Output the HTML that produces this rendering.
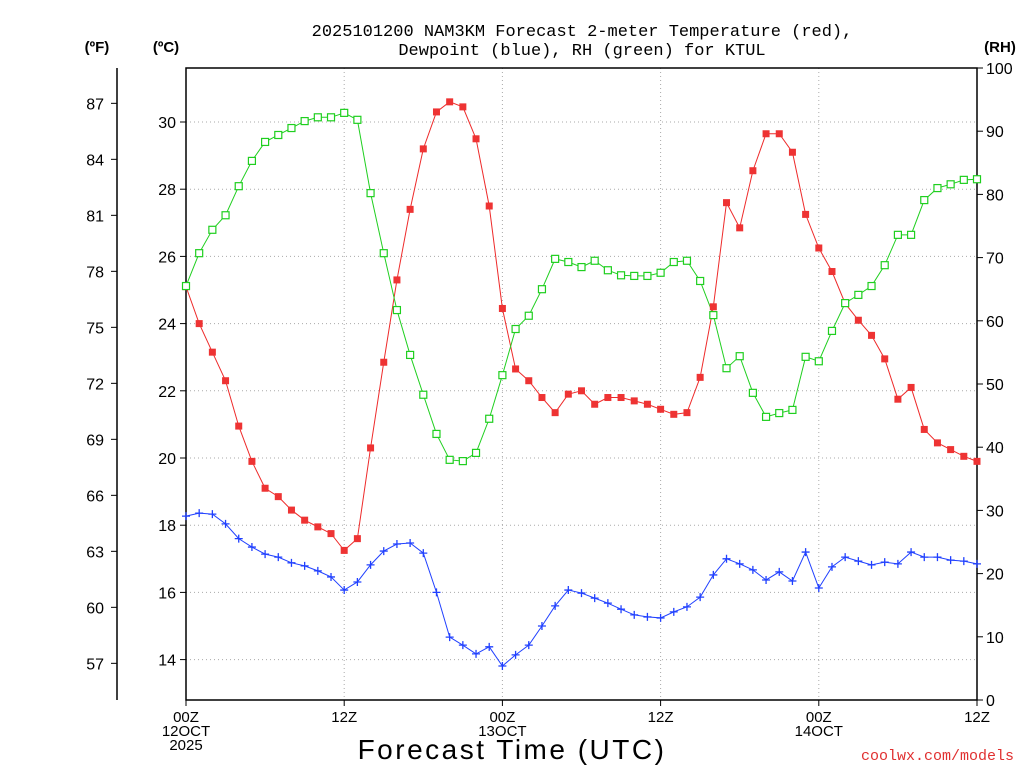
<!DOCTYPE html>
<html><head><meta charset="utf-8"><style>
html,body{margin:0;padding:0;background:#fff;}
svg{display:block;font-family:"Liberation Sans",sans-serif;}
</style></head><body>
<svg id="chart" width="1024" height="768" viewBox="0 0 1024 768">
<text x="582" y="36" text-anchor="middle" font-size="17" font-family="Liberation Mono, monospace">2025101200 NAM3KM Forecast 2-meter Temperature (red),</text>
<text x="582" y="55" text-anchor="middle" font-size="17" font-family="Liberation Mono, monospace">Dewpoint (blue), RH (green) for KTUL</text>
<text x="97" y="52" text-anchor="middle" font-size="15" font-weight="bold">(ºF)</text>
<text x="166" y="52" text-anchor="middle" font-size="15" font-weight="bold">(ºC)</text>
<text x="1000" y="52" text-anchor="middle" font-size="15" font-weight="bold">(RH)</text>
<text x="512" y="759" text-anchor="middle" font-size="28" letter-spacing="2.5">Forecast Time (UTC)</text>
<text x="1014" y="760" text-anchor="end" font-size="15" fill="#e03030" font-family="Liberation Mono, monospace">coolwx.com/models</text>
<g id="grid"></g><g id="axes"></g><g id="series"></g>
</svg>
<script>
const hours = Array.from({length:61},(_,i)=>i);
const tempC = [25.1,24.0,23.15,22.3,20.95,19.9,19.1,18.85,18.45,18.15,17.95,17.75,17.25,17.6,20.3,22.85,25.3,27.4,29.2,30.3,30.6,30.45,29.5,27.5,24.45,22.65,22.3,21.8,21.35,21.9,22.0,21.6,21.8,21.8,21.7,21.6,21.45,21.3,21.35,22.4,24.5,27.6,26.85,28.55,29.65,29.65,29.1,27.25,26.25,25.55,24.6,24.1,23.65,22.95,21.75,22.1,20.85,20.45,20.25,20.05,19.9];
const rh = [65.5,70.7,74.4,76.7,81.3,85.3,88.3,89.4,90.5,91.6,92.2,92.2,92.9,91.8,80.2,70.7,61.7,54.6,48.3,42.1,38.0,37.8,39.1,44.5,51.4,58.7,60.8,65.0,69.8,69.3,68.5,69.5,68.0,67.2,67.1,67.1,67.6,69.3,69.5,66.3,60.9,52.5,54.4,48.6,44.8,45.4,45.9,54.3,53.6,58.4,62.8,64.1,65.5,68.8,73.6,73.6,79.1,81.0,81.6,82.3,82.4];
const dewC = [18.27,18.36,18.33,18.04,17.6,17.35,17.14,17.05,16.88,16.79,16.64,16.46,16.07,16.31,16.82,17.23,17.44,17.47,17.17,16.0,14.67,14.43,14.17,14.38,13.81,14.14,14.43,15.0,15.6,16.07,15.98,15.83,15.68,15.5,15.33,15.27,15.24,15.42,15.57,15.86,16.52,17.0,16.85,16.67,16.37,16.61,16.34,17.2,16.13,16.76,17.05,16.93,16.82,16.9,16.85,17.2,17.05,17.05,16.96,16.93,16.85];
const cTicks = [14,16,18,20,22,24,26,28,30];
const fTicks = [57,60,63,66,69,72,75,78,81,84,87];
const rhTicks = [0,10,20,30,40,50,60,70,80,90,100];
const xTickHours = [0,12,24,36,48,60];
const xTickLabels = [["00Z","12OCT","2025"],["12Z"],["00Z","13OCT"],["12Z"],["00Z","14OCT"],["12Z"]];

const L=186,R=977,T=68,B=700;
const x = h => L + h*(R-L)/60;
const yC = c => 458 - (c-20)*33.6;
const yF = f => yC((f-32)*5/9);
const yRH = r => B - r*(B-T)/100;
const NS="http://www.w3.org/2000/svg";
function mk(tag,attrs,parent){const e=document.createElementNS(NS,tag);for(const k in attrs)e.setAttribute(k,attrs[k]);parent.appendChild(e);return e;}
const grid=document.getElementById('grid'), axes=document.getElementById('axes'), ser=document.getElementById('series');

cTicks.forEach(c=>{
  const g=mk('line',{x1:L,x2:R,y1:yC(c),y2:yC(c),stroke:'#aaa','stroke-dasharray':'1,3'},grid);
  
  
  mk('line',{x1:L-6,x2:L,y1:yC(c),y2:yC(c),stroke:'#000'},axes);
  const t=mk('text',{x:L-10,y:yC(c)+6,'text-anchor':'end','font-size':16},axes);t.textContent=c;
  
  
});
xTickHours.forEach((h,i)=>{
  if(h>0&&h<60){const g=mk('line',{x1:x(h),x2:x(h),y1:T,y2:B,stroke:'#aaa','stroke-dasharray':'1,3'},grid);
  
  }
  mk('line',{x1:x(h),x2:x(h),y1:B,y2:B+6,stroke:'#000'},axes);
  xTickLabels[i].forEach((s,j)=>{const t=mk('text',{x:x(h),y:722+j*14,'text-anchor':'middle','font-size':15},axes);t.textContent=s;
  
  });
});
fTicks.forEach(f=>{
  mk('line',{x1:111,x2:117,y1:yF(f),y2:yF(f),stroke:'#000'},axes);
  const t=mk('text',{x:104,y:yF(f)+6,'text-anchor':'end','font-size':16},axes);t.textContent=f;
  
  
});
rhTicks.forEach(r=>{
  mk('line',{x1:R,x2:R+6,y1:yRH(r),y2:yRH(r),stroke:'#000'},axes);
  const t=mk('text',{x:R+9,y:yRH(r)+6,'font-size':16},axes);t.textContent=r;
  
  
});
const frame=mk('rect',{x:L,y:T,width:R-L,height:B-T,fill:'none',stroke:'#000','stroke-width':1.5},axes);


const fax=mk('line',{x1:117,x2:117,y1:T,y2:B,stroke:'#000','stroke-width':1.5},axes);



function line(vals,yf,color,name){
  const p=mk('polyline',{points:vals.map((v,i)=>x(hours[i])+','+yf(v)).join(' '),fill:'none',stroke:color,'stroke-width':1},ser);
  
  
}
line(tempC,yC,'#ee2a2a','temperature');
line(rh,yRH,'#1fcf1f','rh');
line(dewC,yC,'#2040ff','dewpoint');
tempC.forEach((v,i)=>{const m=mk('rect',{x:x(i)-3.5,y:yC(v)-3.5,width:7,height:7,fill:'#ee3333'},ser);
  
  });
rh.forEach((v,i)=>{const m=mk('rect',{x:x(i)-3.5,y:yRH(v)-3.5,width:7,height:7,fill:'#fff',stroke:'#1fcf1f','stroke-width':1.2},ser);
  
  });
dewC.forEach((v,i)=>{const m=mk('path',{d:`M${x(i)-4},${yC(v)}h8M${x(i)},${yC(v)-4}v8`,stroke:'#2040ff','stroke-width':1.3},ser);
  
  });
</script>
</body></html>
